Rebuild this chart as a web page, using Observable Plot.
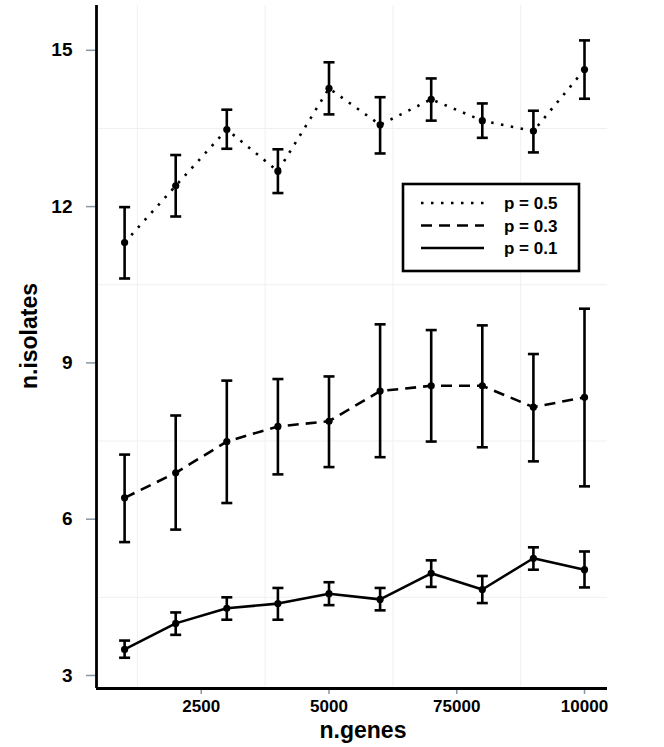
<!DOCTYPE html>
<html>
<head>
<meta charset="utf-8">
<script src="https://cdn.jsdelivr.net/npm/d3@7"></script>
<script src="https://cdn.jsdelivr.net/npm/@observablehq/plot@0.6"></script>
<style>
  html, body { margin: 0; padding: 0; background: #fff; }
</style>
</head>
<body>
<div id="chart"></div>
<script>
// ---- data ----
const nGenes = [1000, 2000, 3000, 4000, 5000, 6000, 7000, 8000, 9000, 10000];

const p05Mean = [11.31, 12.40, 13.48, 12.68, 14.27, 13.57, 14.06, 13.65, 13.45, 14.63];
const p05Low  = [10.62, 11.81, 13.11, 12.26, 13.77, 13.02, 13.65, 13.32, 13.04, 14.07];
const p05High = [11.99, 12.99, 13.86, 13.10, 14.77, 14.10, 14.46, 13.98, 13.84, 15.19];

const p03Mean = [6.41, 6.89, 7.49, 7.78, 7.88, 8.46, 8.56, 8.56, 8.15, 8.34];
const p03Low  = [5.56, 5.80, 6.31, 6.86, 7.00, 7.19, 7.49, 7.38, 7.11, 6.63];
const p03High = [7.24, 7.99, 8.66, 8.69, 8.74, 9.74, 9.63, 9.72, 9.17, 10.04];

const p01Mean = [3.50, 4.00, 4.29, 4.38, 4.57, 4.46, 4.96, 4.65, 5.25, 5.03];
const p01Low  = [3.34, 3.78, 4.07, 4.07, 4.35, 4.25, 4.70, 4.39, 5.03, 4.69];
const p01High = [3.67, 4.21, 4.50, 4.68, 4.79, 4.68, 5.21, 4.91, 5.46, 5.38];

const seriesNames = ["p = 0.5", "p = 0.3", "p = 0.1"];
const xTicks = [2500, 5000, 7500, 10000];
const xTickLabels = ["2500", "5000", "75000", "10000"];
const yTicks = [3, 6, 9, 12, 15];
const yTickLabels = ["3", "6", "9", "12", "15"];
const xMinorGrid = [1250, 3750, 6250, 8750];
const yMinorGrid = [4.5, 7.5, 10.5, 13.5];
const xLabel = "n.genes";
const yLabel = "n.isolates";

// ---- build table ----
const groups = [
  {name: seriesNames[0], mean: p05Mean, lo: p05Low, hi: p05High, dash: "2.5,7.5"},
  {name: seriesNames[1], mean: p03Mean, lo: p03Low, hi: p03High, dash: "11,7"},
  {name: seriesNames[2], mean: p01Mean, lo: p01Low, hi: p01High, dash: null}
];
const rows = groups.flatMap(g => nGenes.map((x, i) => ({series: g.name, x, y: g.mean[i], lo: g.lo[i], hi: g.hi[i]})));

const capSymbol = {
  draw(ctx) { ctx.moveTo(-5.5, 0); ctx.lineTo(5.5, 0); }
};

const xDomain = [450, 10450];
const yDomain = [2.75, 15.86];
const tickGray = "#8796a3";
const fontFamily = "'Liberation Sans', Arial, sans-serif";

const lineMarks = groups.map(g => Plot.line(rows.filter(r => r.series === g.name), {
  x: "x", y: "y", stroke: "black", strokeWidth: 2.6,
  strokeDasharray: g.dash || undefined, strokeLinecap: g.dash ? "butt" : "round"
}));

const chart = Plot.plot({
  width: 664,
  height: 747,
  marginLeft: 96,
  marginRight: 57,
  marginTop: 5,
  marginBottom: 59,
  style: {fontFamily, background: "white", color: "black"},
  x: {domain: xDomain},
  y: {domain: yDomain},
  marks: [
    Plot.ruleX(xMinorGrid, {stroke: "#f0f0f0", strokeWidth: 1}),
    Plot.ruleY(yMinorGrid, {stroke: "#f0f0f0", strokeWidth: 1}),
    Plot.axisY(yTicks, {tickSize: 10, text: null, stroke: tickGray, strokeWidth: 1.5, label: null}),
    Plot.axisY(yTicks, {tickSize: 0, tickPadding: 24, fontSize: 19, fontWeight: "bold", fill: "black", label: null,
      tickFormat: d => yTickLabels[yTicks.indexOf(d)]}),
    Plot.axisX(xTicks, {tickSize: 6, text: null, stroke: tickGray, strokeWidth: 1.5, label: null}),
    Plot.axisX(xTicks, {tickSize: 0, tickPadding: 11, fontSize: 17, fontWeight: "bold", fill: "black", label: null,
      tickFormat: d => xTickLabels[xTicks.indexOf(d)]}),
    ...lineMarks,
    Plot.ruleX(rows, {x: "x", y1: "lo", y2: "hi", stroke: "black", strokeWidth: 2.6}),
    Plot.dot(rows, {x: "x", y: "lo", symbol: capSymbol, stroke: "black", strokeWidth: 2.6, fill: "none"}),
    Plot.dot(rows, {x: "x", y: "hi", symbol: capSymbol, stroke: "black", strokeWidth: 2.6, fill: "none"}),
    Plot.dot(rows, {x: "x", y: "y", r: 3.6, fill: "black"}),
    Plot.ruleX([xDomain[0]], {stroke: "black", strokeWidth: 2.8}),
    Plot.ruleY([yDomain[0]], {stroke: "black", strokeWidth: 2.8})
  ]
});

document.getElementById("chart").appendChild(chart);

// ---- axis titles and legend ----
const svg = d3.select(chart);
svg.append("text")
  .attr("x", 363).attr("y", 738)
  .attr("text-anchor", "middle")
  .attr("font-family", fontFamily)
  .attr("font-size", 23).attr("font-weight", "bold").attr("fill", "black")
  .text(xLabel);
svg.append("text")
  .attr("transform", "translate(37,336) rotate(-90)")
  .attr("text-anchor", "middle")
  .attr("font-family", fontFamily)
  .attr("font-size", 23).attr("font-weight", "bold").attr("fill", "black")
  .text(yLabel);

const lg = svg.append("g");
lg.append("rect")
  .attr("x", 403).attr("y", 184).attr("width", 176).attr("height", 87)
  .attr("fill", "white").attr("stroke", "black").attr("stroke-width", 2.6);
groups.forEach((g, i) => {
  const yy = 203 + i * 22.5;
  const ln = lg.append("line")
    .attr("x1", 421).attr("x2", 484).attr("y1", yy).attr("y2", yy)
    .attr("stroke", "black").attr("stroke-width", 2.6);
  if (g.dash) ln.attr("stroke-dasharray", g.dash);
  lg.append("text")
    .attr("x", 504).attr("y", yy + 6)
    .attr("text-anchor", "start")
    .attr("font-family", fontFamily)
    .attr("font-size", 17).attr("font-weight", "bold").attr("fill", "black")
    .text(g.name);
});
</script>
</body>
</html>
